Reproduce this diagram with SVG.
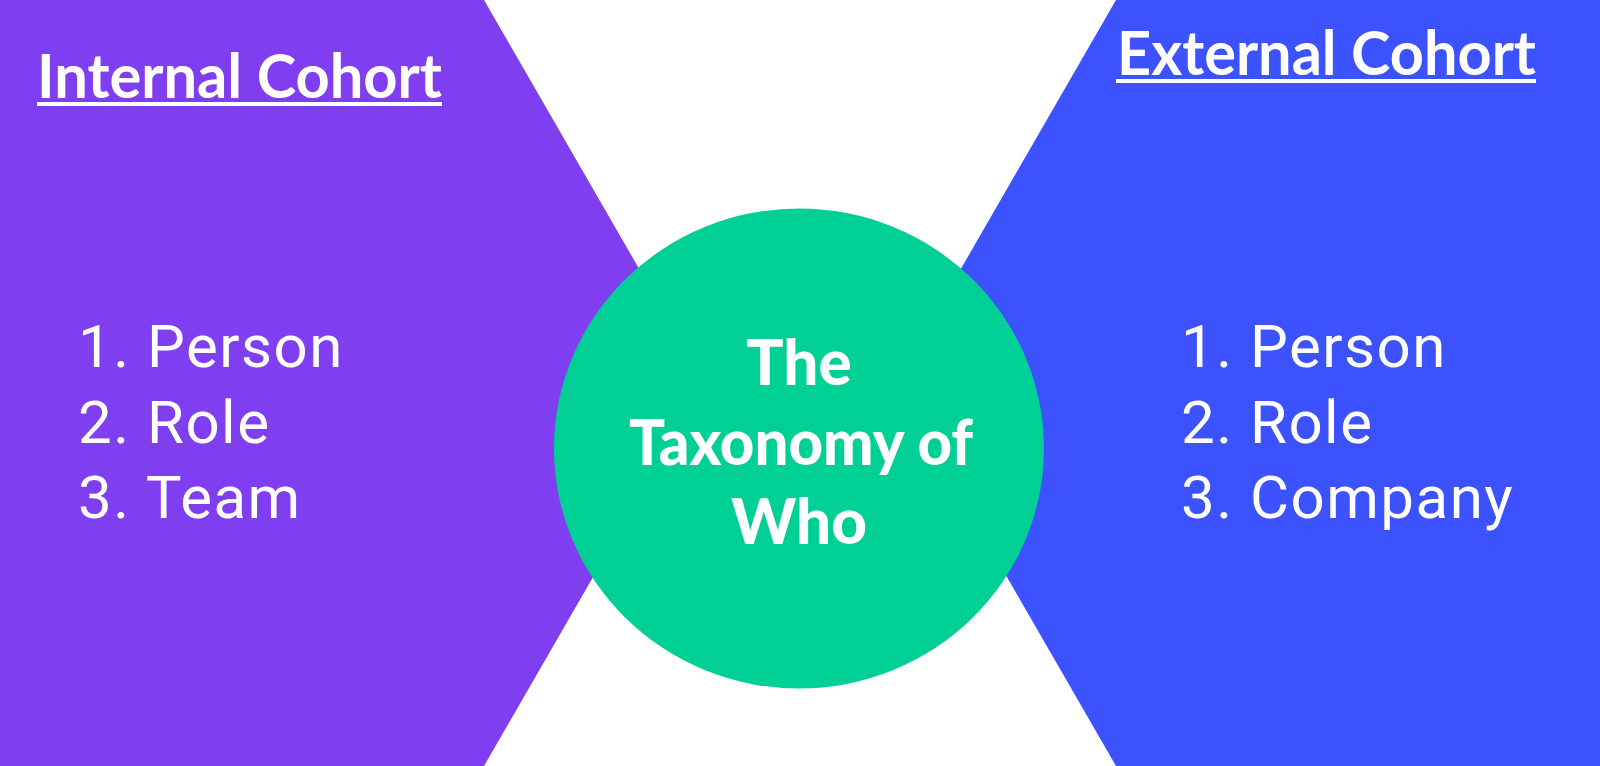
<svg xmlns="http://www.w3.org/2000/svg" width="1600" height="766" viewBox="0 0 1600 766">
<style>
.title{font-family:Lato,"Open Sans","Liberation Sans",sans-serif;font-weight:700;font-size:62px;fill:#ffffff}
.item{font-family:Roboto,"Liberation Sans",sans-serif;font-weight:400;font-size:60px;letter-spacing:1.5px;fill:#ffffff}
.center{font-family:Lato,"Open Sans","Liberation Sans",sans-serif;font-weight:900;font-size:62px;fill:#ffffff;text-anchor:middle}
.ul{fill:#ffffff}
</style>
<rect x="0" y="0" width="1600" height="766" fill="#ffffff"/>
<g id="internal-cohort">
<polygon points="0,0 484,0 705,383 484,766 0,766" fill="#7F3FF1"/>
<text class="title" x="37" y="98" textLength="405" lengthAdjust="spacingAndGlyphs">Internal Cohort</text>
<rect class="ul" x="37" y="102" width="405" height="4"/>
<text class="item" x="78" y="367">1. Person</text>
<text class="item" x="78" y="443">2. Role</text>
<text class="item" x="78" y="518">3. Team</text>
</g>
<g id="external-cohort">
<polygon points="1116,0 1600,0 1600,766 1116,766 895,383" fill="#3D52FF"/>
<text class="title" x="1117" y="75" textLength="419" lengthAdjust="spacingAndGlyphs">External Cohort</text>
<rect class="ul" x="1116" y="79" width="420" height="4"/>
<text class="item" x="1181" y="367">1. Person</text>
<text class="item" x="1181" y="443">2. Role</text>
<text class="item" x="1181" y="518">3. Company</text>
</g>
<g id="taxonomy-of-who">
<ellipse cx="799" cy="448.5" rx="245" ry="240" fill="#00CF96"/>
<text class="center" x="799" y="385">The</text>
<text class="center" x="801" y="465" textLength="344" lengthAdjust="spacingAndGlyphs">Taxonomy of</text>
<text class="center" x="799" y="544">Who</text>
</g>
<g id="connectors"/>
</svg>
